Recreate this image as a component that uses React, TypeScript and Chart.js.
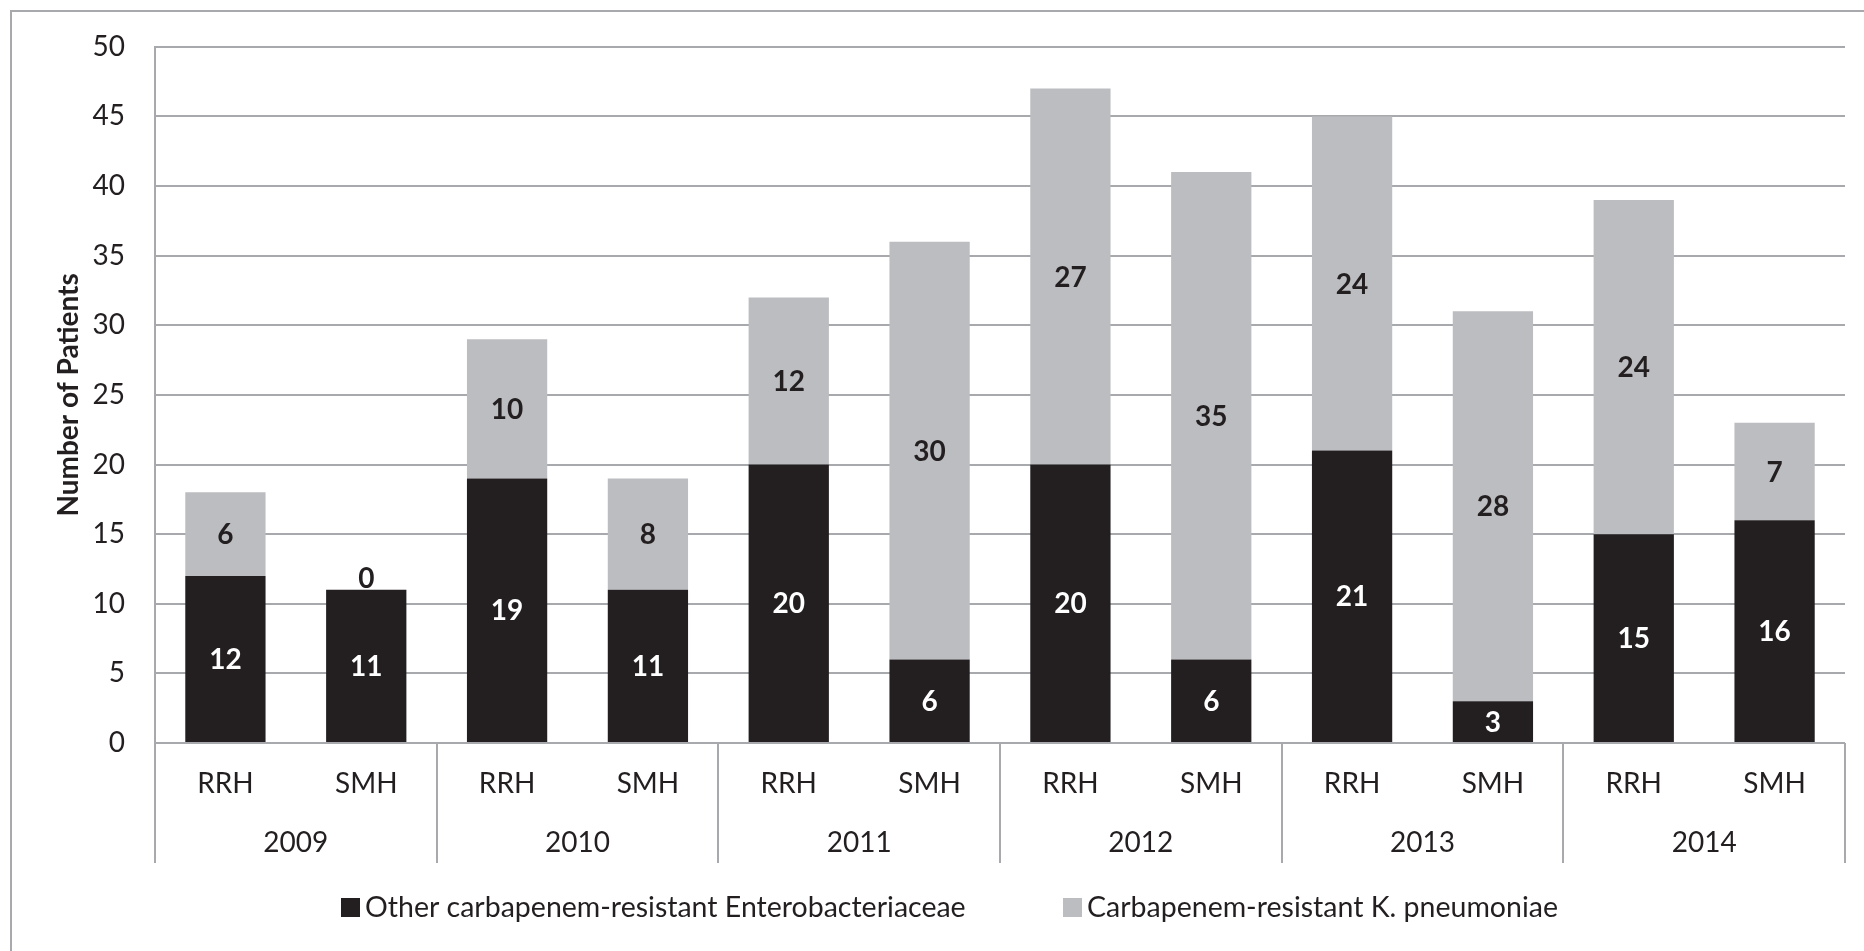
import React, { useEffect, useRef } from "react";
import { Chart, registerables } from "chart.js";

Chart.register(...registerables);

const hospitals = ["RRH", "SMH", "RRH", "SMH", "RRH", "SMH", "RRH", "SMH", "RRH", "SMH", "RRH", "SMH"];
const years = ["2009", "2010", "2011", "2012", "2013", "2014"];
const otherCRE = [12, 11, 19, 11, 20, 6, 20, 6, 21, 3, 15, 16];
const crKP = [6, 0, 10, 8, 12, 30, 27, 35, 24, 28, 24, 7];
const seriesNames = ["Other carbapenem-resistant Enterobacteriaceae", "Carbapenem-resistant K. pneumoniae"];
const yTicks = [0, 5, 10, 15, 20, 25, 30, 35, 40, 45, 50];

const BLACK = "#231F20";
const GREY = "#BCBDC0";
const GRID = "#A7A9AC";
const TEXT = "#231F20";
const FONT = "Lato";

const extras = {
  id: "extras",
  afterDraw(chart: any) {
    const ctx = chart.ctx;
    const area = chart.chartArea;
    const x = chart.scales.x;
    ctx.save();
    // outer border
    ctx.strokeStyle = GRID;
    ctx.lineWidth = 2;
    ctx.beginPath();
    ctx.moveTo(11, chart.height + 5);
    ctx.lineTo(11, 11);
    ctx.lineTo(chart.width + 5, 11);
    ctx.stroke();

    // group dividers
    const bottom = area.bottom + 120;
    const bounds: number[] = [area.left];
    for (let g = 1; g < years.length; g++) {
      bounds.push((x.getPixelForValue(2 * g - 1) + x.getPixelForValue(2 * g)) / 2);
    }
    bounds.push(area.right);
    ctx.beginPath();
    bounds.forEach((b) => {
      ctx.moveTo(Math.round(b), area.bottom);
      ctx.lineTo(Math.round(b), bottom);
    });
    ctx.stroke();

    // year labels
    ctx.fillStyle = TEXT;
    ctx.font = `28px ${FONT}`;
    ctx.textAlign = "center";
    ctx.textBaseline = "middle";
    years.forEach((yr, g) => {
      const cx = (x.getPixelForValue(2 * g) + x.getPixelForValue(2 * g + 1)) / 2;
      ctx.fillText(yr, cx, area.bottom + 100);
    });

    // data labels
    ctx.font = `bold 28px ${FONT}`;
    chart.data.datasets.forEach((ds: any, di: number) => {
      const meta = chart.getDatasetMeta(di);
      meta.data.forEach((bar: any, i: number) => {
        const v = ds.data[i];
        if (v === 0) {
          ctx.fillStyle = TEXT;
          ctx.textBaseline = "bottom";
          ctx.fillText(String(v), bar.x, bar.y + 3);
          ctx.textBaseline = "middle";
        } else {
          ctx.fillStyle = di === 0 ? "#FFFFFF" : TEXT;
          ctx.fillText(String(v), bar.x, (bar.y + bar.base) / 2 + 1);
        }
      });
    });

    // legend
    const ly = 907;
    ctx.font = `28.5px ${FONT}`;
    ctx.textAlign = "left";
    const items = [
      { color: BLACK, text: seriesNames[0], x: 341 },
      { color: GREY, text: seriesNames[1], x: 1063 },
    ];
    items.forEach((it) => {
      ctx.fillStyle = it.color;
      ctx.fillRect(it.x, ly - 9, 19, 19);
      ctx.fillStyle = TEXT;
      ctx.fillText(it.text, it.x + 24, ly + 1);
    });
    ctx.restore();
  },
};

export default function App() {
  const ref = useRef<HTMLCanvasElement>(null);
  useEffect(() => {
    document.body.style.margin = "0";
    const chart = new Chart(ref.current!, {
      type: "bar",
      data: {
        labels: hospitals,
        datasets: [
          { label: seriesNames[0], data: otherCRE, backgroundColor: BLACK, barPercentage: 0.57, categoryPercentage: 1 },
          { label: seriesNames[1], data: crKP, backgroundColor: GREY, barPercentage: 0.57, categoryPercentage: 1 },
        ],
      },
      options: {
        responsive: false,
        animation: false,
        layout: { padding: { top: 45, right: 19, bottom: 88, left: 0 } },
        plugins: { legend: { display: false }, tooltip: { enabled: false } },
        scales: {
          x: {
            stacked: true,
            grid: { display: false, drawTicks: false },
            border: { display: false },
            ticks: { color: TEXT, font: { family: FONT, size: 28 }, padding: 24, maxRotation: 0 },
            afterFit: (s: any) => {
              s.height = 120;
            },
          },
          y: {
            stacked: true,
            min: 0,
            max: 50,
            afterBuildTicks: (s: any) => {
              s.ticks = yTicks.map((v) => ({ value: v }));
            },
            grid: { color: GRID, lineWidth: 2, drawTicks: false },
            border: { display: true, color: GRID, width: 2 },
            ticks: { color: TEXT, font: { family: FONT, size: 28 }, padding: 30 },
            title: {
              display: true,
              text: "Number of Patients",
              color: TEXT,
              font: { family: FONT, size: 28, weight: "bold" },
              padding: { top: 52, bottom: 0 },
            },
            afterFit: (s: any) => {
              s.width = 155;
            },
          },
        },
      },
      plugins: [extras],
    });
    return () => chart.destroy();
  }, []);
  return (
    <div style={{ width: 1864, height: 951, background: "#fff" }}>
      <canvas ref={ref} width={1864} height={951} />
    </div>
  );
}
